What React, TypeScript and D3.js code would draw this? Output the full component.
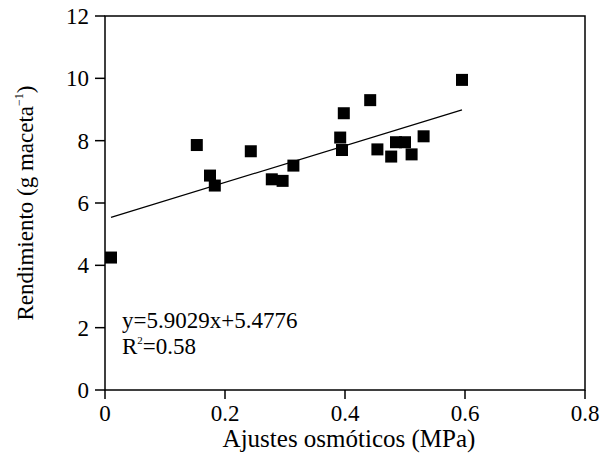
import React from 'react';
import * as d3 from 'd3';

// osmotic adjustment (MPa) vs yield (g per pot)
const ajusteX = [0.01, 0.153, 0.175, 0.183, 0.243, 0.278, 0.296, 0.314, 0.392, 0.395, 0.398, 0.442, 0.454, 0.477, 0.485, 0.5, 0.511, 0.531, 0.595];
const rendimientoY = [4.25, 7.86, 6.88, 6.56, 7.66, 6.76, 6.71, 7.2, 8.1, 7.7, 8.88, 9.3, 7.72, 7.49, 7.95, 7.95, 7.56, 8.14, 9.95];
const xTicks = [0, 0.2, 0.4, 0.6, 0.8];
const yTicks = [0, 2, 4, 6, 8, 10, 12];
const slope = 5.9029;
const intercept = 5.4776;
const r2 = '0.58';

const width = 600;
const height = 457;
const margin = { top: 16, right: 15, bottom: 67, left: 105 };
const font = "'Liberation Serif', 'DejaVu Serif', serif";

export default function App() {
  const x = d3.scaleLinear().domain([0, 0.8]).range([margin.left, width - margin.right]);
  const y = d3.scaleLinear().domain([0, 12]).range([height - margin.bottom, margin.top]);
  const [x0, x1] = d3.extent(ajusteX) as [number, number];
  const fit = d3.line<number>()
    .x(d => x(d))
    .y(d => y(slope * d + intercept));
  const sq = 12;

  return (
    <svg width={width} height={height}
      style={{ position: 'absolute', left: 0, top: 0, fontFamily: font }}>
      <rect width={width} height={height} fill="#fff" />
      {/* frame */}
      <rect x={x(0)} y={y(12)} width={x(0.8) - x(0)} height={y(0) - y(12)}
        fill="none" stroke="#000" strokeWidth={1.5} />

      {/* y axis */}
      {yTicks.map(t => (
        <g key={t}>
          <line x1={x(0) - 10} x2={x(0)} y1={y(t)} y2={y(t)} stroke="#000" strokeWidth={1.5} />
          <text x={x(0) - 16} y={y(t)} dy="0.35em" textAnchor="end" fontSize={23}>{t}</text>
        </g>
      ))}
      {/* x axis */}
      {xTicks.map(t => (
        <g key={t}>
          <line x1={x(t)} x2={x(t)} y1={y(0)} y2={y(0) + 9} stroke="#000" strokeWidth={1.5} />
          <text x={x(t)} y={y(0) + 31} textAnchor="middle" fontSize={23}>{t}</text>
        </g>
      ))}

      <text x={(x(0) + x(0.8)) / 2 + 4} y={447} textAnchor="middle" fontSize={25}>Ajustes osmóticos (MPa)</text>
      <text transform={`translate(33,${(y(0) + y(12)) / 2}) rotate(-90)`} textAnchor="middle" fontSize={23}>
        Rendimiento (g maceta<tspan dy="-10" fontSize={12}>−1</tspan><tspan dy="10">)</tspan>
      </text>

      {/* regression line */}
      <path d={fit([x0, x1]) ?? ''} fill="none" stroke="#000" strokeWidth={1.2} />

      {/* points */}
      {ajusteX.map((v, i) => (
        <rect key={i} x={x(v) - sq / 2} y={y(rendimientoY[i]) - sq / 2} width={sq} height={sq} fill="#000" />
      ))}

      <text x={122} y={328} fontSize={23}>y=5.9029x+5.4776</text>
      <text x={122} y={354} fontSize={23}>
        R<tspan dy="-10" fontSize={11}>2</tspan><tspan dy="10">={r2}</tspan>
      </text>
    </svg>
  );
}
